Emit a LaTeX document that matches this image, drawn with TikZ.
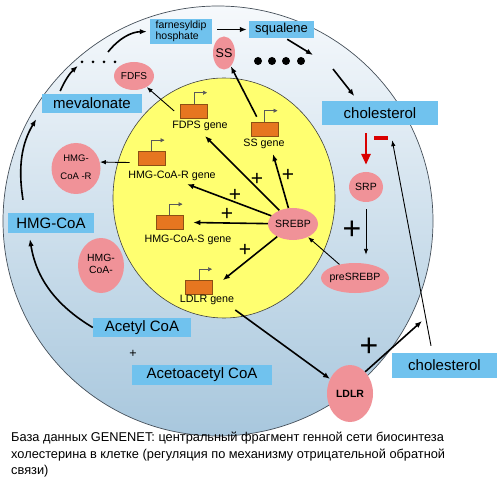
\documentclass[tikz,border=0pt]{standalone}
\usepackage{fontspec}
\setmainfont{Liberation Sans}
\usepackage{tikz}
\usetikzlibrary{arrows.meta}
\usetikzlibrary{shapes.geometric}
\definecolor{boxblue}{RGB}{112,194,238}
\definecolor{enzpink}{RGB}{240,146,152}
\definecolor{nucyellow}{RGB}{255,255,112}
\definecolor{geneorange}{RGB}{230,118,32}
\definecolor{genebrown}{RGB}{140,80,20}
\definecolor{celltop}{RGB}{246,249,252}
\definecolor{cellbot}{RGB}{168,199,221}
\definecolor{cellline}{RGB}{70,80,90}
\colorlet{inhred}{red!85!black}
\newcommand\ctr[1]{\makebox[0pt][c]{#1}}
\tikzstyle{cmpd}=[fill=boxblue,inner sep=0pt,font=\fontsize{15}{17}\selectfont]
\tikzstyle{enz}=[ellipse,fill=enzpink,inner sep=0pt,font=\fontsize{10.5}{12}\selectfont]
\tikzstyle{generect}=[draw=genebrown,fill=geneorange,line width=.6pt,minimum width=27pt,minimum height=14pt,inner sep=0pt]
\tikzstyle{genelbl}=[font=\fontsize{10.7}{12}\selectfont,inner sep=1pt]
\tikzstyle{prom}=[draw=black!65,line width=.5pt,-{Triangle[length=4pt,width=4pt]}]
\tikzstyle{flow}=[line width=1.6pt,-{Latex[length=7pt,width=5.5pt]}]
\tikzstyle{thinflow}=[line width=.9pt,-{Latex[length=6pt,width=4.5pt]}]
\tikzstyle{redflow}=[draw=inhred,line width=2.8pt,-{Triangle[length=11pt,width=9pt]}]
\tikzstyle{minus}=[fill=inhred,minimum width=14pt,minimum height=4pt,inner sep=0pt]
\tikzstyle{plussign}=[inner sep=0pt,font=\fontsize{21}{21}\selectfont]
\tikzstyle{bigplussign}=[inner sep=0pt,font=\fontsize{32}{32}\selectfont]
\tikzstyle{sdot}=[circle,fill=black,inner sep=0pt,minimum size=3pt]
\tikzstyle{bdot}=[circle,fill=black,inner sep=0pt,minimum size=8pt]
\tikzstyle{caption}=[inner sep=0pt,align=left,font=\fontsize{12.8}{16.5}\selectfont]
% gene: box, promoter and name
\newcommand\gene[4]{%
  \node[generect] (#1) at (#2) {};
  \draw[prom] (#1.north) -- ++(0,-11) -- ++(13,0);
  \node[genelbl] (#1l) at (#3) {#4};}
\begin{document}
\begin{tikzpicture}[x=1pt,y=-1pt]
	\useasboundingbox (0,0) rectangle (500,494);
	% cell and nucleus
	\shadedraw[top color=celltop,bottom color=cellbot,draw=cellline,line width=.7pt] (218,221) circle [radius=215pt];
	\filldraw[fill=nucyellow,draw=black!75,line width=.6pt] (224,198) ellipse [x radius=111pt,y radius=120pt];
	% compounds
	\node[cmpd,minimum width=62pt,minimum height=25pt,align=left,font=\fontsize{10.5}{11.5}\selectfont] (fpp) at (181,31.5) {farnesyldip\\hosphate};
	\node[cmpd,minimum width=65pt,minimum height=17pt,font=\fontsize{13}{15}\selectfont] (sq) at (281.5,29.5) {squalene};
	\node[cmpd,minimum width=100pt,minimum height=19pt] (mev) at (92,103.5) {mevalonate};
	\node[cmpd,minimum width=86pt,minimum height=20pt] (hmgcoa) at (51,223) {HMG-CoA};
	\node[cmpd,minimum width=98pt,minimum height=19pt] (acetyl) at (142,327.5) {Acetyl CoA};
	\node[cmpd,minimum width=140pt,minimum height=20pt] (acac) at (202,375) {Acetoacetyl CoA};
	\node[cmpd,minimum width=116pt,minimum height=24pt] (chol) at (380,113) {cholesterol};
	\node[cmpd,minimum width=105pt,minimum height=25pt] (chol2) at (444.5,365.5) {cholesterol};
	% enzymes
	\node[enz,minimum width=22pt,minimum height=33pt,font=\fontsize{12.5}{14}\selectfont] (SS) at (224,53) {\ctr{SS}};
	\node[enz,minimum width=40pt,minimum height=28pt,font=\fontsize{10}{12}\selectfont] (FDFS) at (134,76) {\ctr{FDFS}};
	\node[enz,minimum width=49pt,minimum height=51pt,font=\fontsize{9.5}{11}\selectfont] (HMGR) at (76,168.5) {\ctr{\begin{tabular}{@{}c@{}}HMG-\\[7.5pt]CoA -R\end{tabular}}};
	\node[enz,minimum width=46pt,minimum height=55pt,font=\fontsize{10.4}{12}\selectfont] (HMGS) at (101,265.5) {\ctr{\begin{tabular}{@{}c@{}}HMG-\\CoA-\end{tabular}}};
	\node[enz,minimum width=46pt,minimum height=57pt,font=\fontsize{10.5}{12}\selectfont\bfseries] (LDLR) at (350,393.5) {\ctr{LDLR}};
	\node[enz,minimum width=34pt,minimum height=30pt] (SRP) at (366,187) {\ctr{SRP}};
	\node[enz,minimum width=68pt,minimum height=30pt] (preSREBP) at (355,278) {\ctr{preSREBP}};
	\node[enz,minimum width=50pt,minimum height=32pt] (SREBP) at (293,224) {\ctr{SREBP}};
	% genes
	\gene{gFDPS}{194,111}{200,126}{FDPS gene}
	\gene{gSS}{264.5,129}{264,144}{SS gene}
	\gene{gHMGR}{151.5,158.5}{172,176}{HMG-CoA-R gene}
	\gene{gHMGS}{169.5,222.5}{188,240}{HMG-CoA-S gene}
	\gene{gLDLR}{199,287.5}{207,300}{LDLR gene}
	% dots
	\node[sdot] (d1) at (82,62) {};
	\node[sdot] (d2) at (93,62) {};
	\node[sdot] (d3) at (104,62) {};
	\node[sdot] (d4) at (115,62) {};
	\node[bdot] (b1) at (258,61) {};
	\node[bdot] (b2) at (272,61) {};
	\node[bdot] (b3) at (286,61) {};
	\node[bdot] (b4) at (301,61) {};
	% signs
	\node[minus] (minus) at (381,138) {};
	\node[plussign] (p1) at (288,175) {+};
	\node[plussign] (p2) at (257,179) {+};
	\node[plussign] (p3) at (235,195) {+};
	\node[plussign] (p4) at (227,214) {+};
	\node[plussign] (p5) at (245,250) {+};
	\node[inner sep=0pt,font=\fontsize{12.5}{12.5}\selectfont] (p6) at (133,354) {+};
	\node[bigplussign] (p7) at (352,230) {+};
	\node[bigplussign] (p8) at (369,347) {+};
	% pathway
	\draw[flow,shorten >=6pt] (acetyl.west) to[bend left=25] ([xshift=-22pt]hmgcoa.south);
	\draw[flow,shorten >=7pt] ([xshift=-28pt,yshift=13pt]hmgcoa.north) to[bend left=20] ([xshift=-2pt]mev.south west);
	\draw[flow,shorten <=3pt,shorten >=4pt] ([xshift=-33pt]mev.north) to[bend left=12] (d1);
	\draw[flow,shorten >=3pt] ([xshift=-7pt,yshift=10pt]d4.center) to[bend left=25] (fpp.west);
	\draw[flow,shorten <=5pt,shorten >=2pt] (fpp.east |- sq.west) -- (sq.west);
	\draw[flow,shorten <=2pt] ([xshift=4pt]sq.south) -- ([xshift=12pt,yshift=6pt]b4.center);
	\draw[flow,shorten >=6pt] ([xshift=32pt,yshift=-8pt]b4.center) -- ([xshift=-22pt]chol.north);
	% genes to enzymes
	\draw[thinflow] ([xshift=-6pt]gFDPS.west) -- (FDFS);
	\draw[flow] ([xshift=6pt,yshift=5pt]gSS.north west) -- (SS);
	\draw[thinflow] ([xshift=-8pt,yshift=-4pt]gHMGR.west) -- (HMGR.15);
	\draw[flow] ([yshift=-4pt]gLDLRl.south east) -- (LDLR);
	% SREBP to genes
	\draw[flow] (SREBP) -- ([xshift=9pt,yshift=-4pt]gSSl.south);
	\draw[flow] (SREBP) -- ([xshift=5pt,yshift=-4pt]gFDPSl.south);
	\draw[flow] (SREBP) -- ([xshift=15pt,yshift=-2pt]gHMGRl.south);
	\draw[flow] (SREBP) -- ([xshift=10pt]gHMGS.east);
	\draw[flow] (SREBP) -- ([xshift=10pt]gLDLR.north east);
	% feedback
	\draw[redflow,shorten <=8pt,shorten >=7pt] (chol.south -| SRP.north) -- (SRP.north);
	\draw[thinflow,shorten <=7pt,shorten >=8pt] (SRP.south) -- (SRP.south |- preSREBP.north);
	\draw[thinflow] (preSREBP) -- (SREBP);
	\draw[thinflow] ([xshift=-13.5pt,yshift=7pt]chol2.north) -- ([xshift=4pt]minus.south east);
	\coordinate (efflux) at (422,321);
	\draw[flow] (LDLR.55) -- (efflux);
	% caption
	\node[caption,anchor=north west] (cap) at (11,432) {База данных GENENET: центральный фрагмент генной сети биосинтеза\\холестерина в клетке (регуляция по механизму отрицательной обратной\\связи)};
\end{tikzpicture}
\end{document}
